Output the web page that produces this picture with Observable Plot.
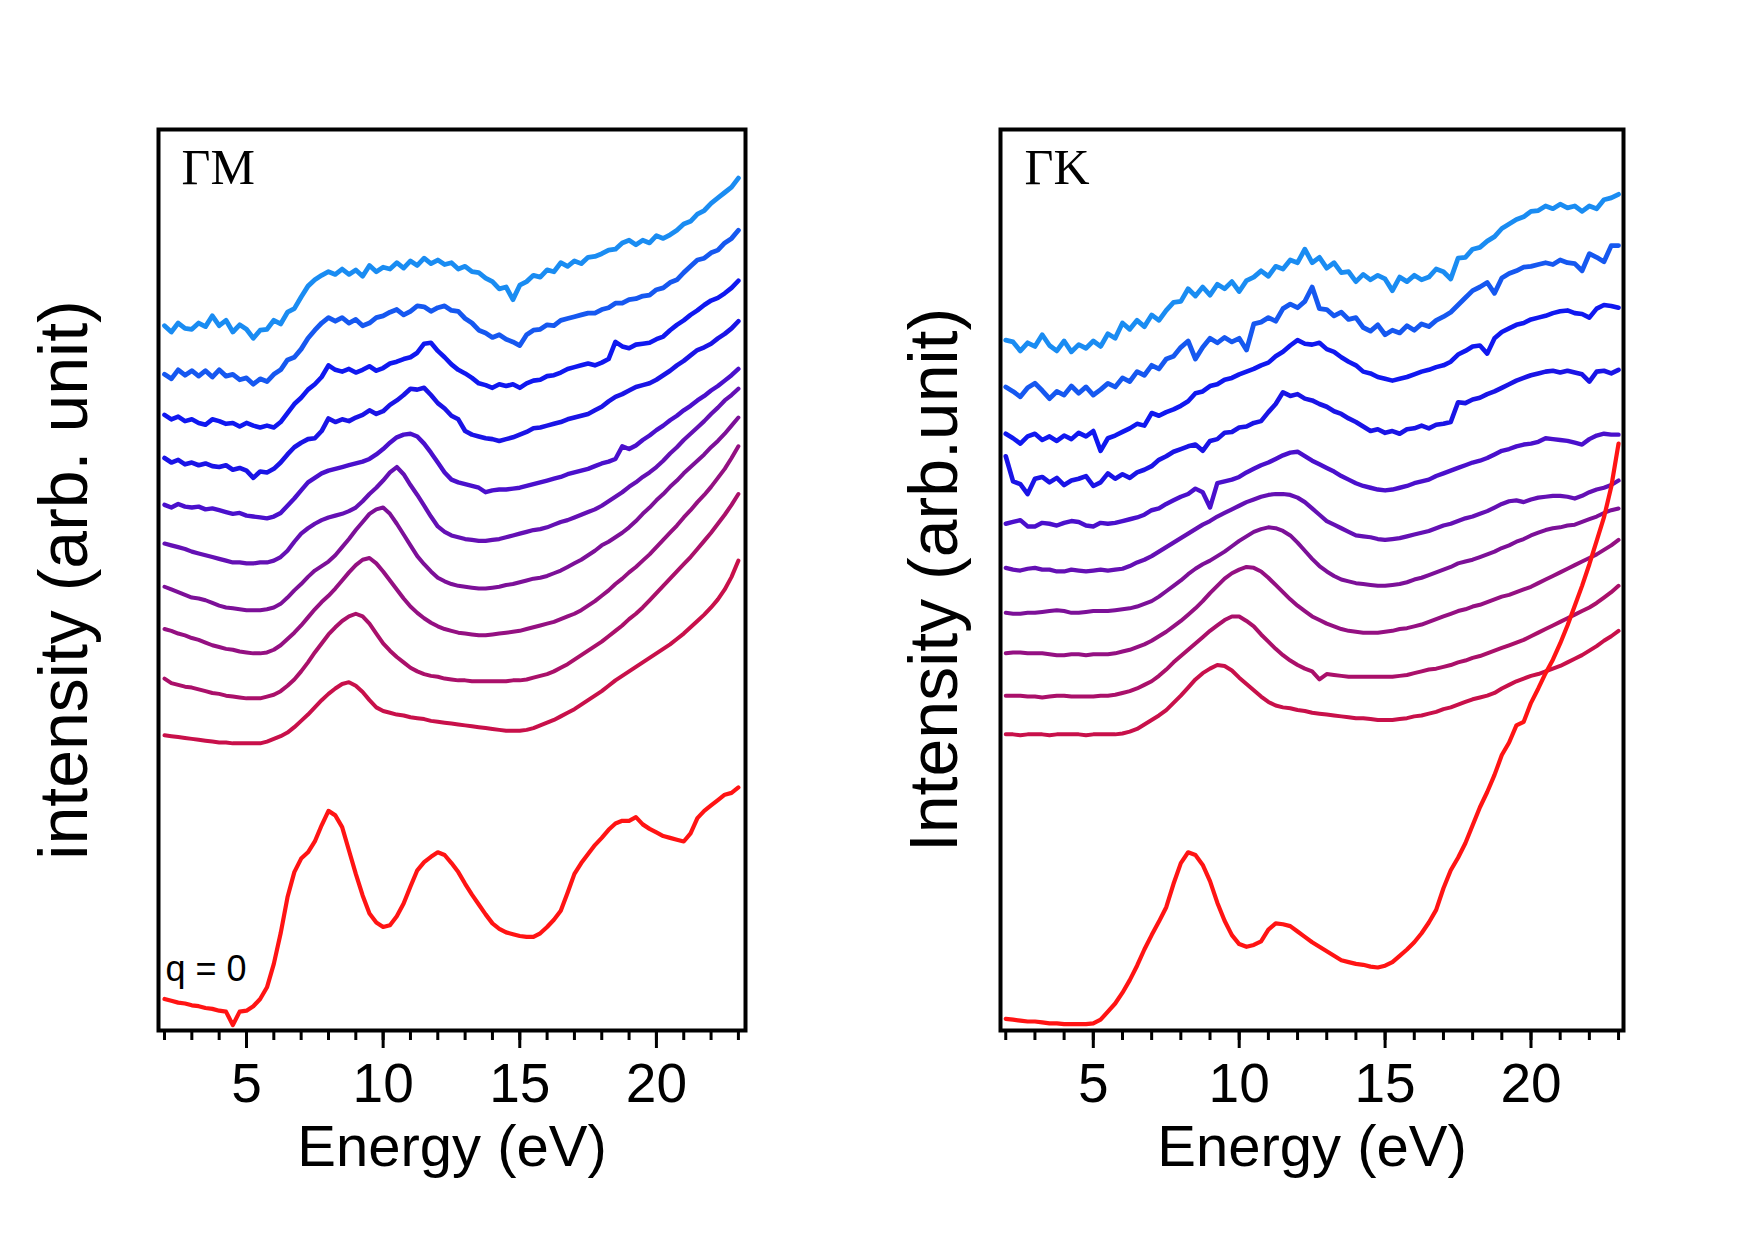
<!DOCTYPE html>
<html>
<head>
<meta charset="utf-8">
<script src="https://cdn.jsdelivr.net/npm/d3@7"></script>
<script src="https://cdn.jsdelivr.net/npm/@observablehq/plot@0.6"></script>
<style>
  html, body { margin: 0; padding: 0; background: #fff; }
  #figure { position: relative; width: 1755px; height: 1240px; overflow: hidden; background: #fff; }
  #figure > div { position: absolute; top: 0; }
</style>
</head>
<body>
<div id="figure">
  <div id="panel-gm" style="left:0px"></div>
  <div id="panel-gk" style="left:830px"></div>
</div>
<script>
// Energy loss grid (eV) shared by every spectrum
const energy = [
  2.00, 2.25, 2.50, 2.75, 3.00, 3.25, 3.50, 3.75,
  4.00, 4.25, 4.50, 4.75, 5.00, 5.25, 5.50, 5.75,
  6.00, 6.25, 6.50, 6.75, 7.00, 7.25, 7.50, 7.75,
  8.00, 8.25, 8.50, 8.75, 9.00, 9.25, 9.50, 9.75,
  10.00, 10.25, 10.50, 10.75, 11.00, 11.25, 11.50, 11.75,
  12.00, 12.25, 12.50, 12.75, 13.00, 13.25, 13.50, 13.75,
  14.00, 14.25, 14.50, 14.75, 15.00, 15.25, 15.50, 15.75,
  16.00, 16.25, 16.50, 16.75, 17.00, 17.25, 17.50, 17.75,
  18.00, 18.25, 18.50, 18.75, 19.00, 19.25, 19.50, 19.75,
  20.00, 20.25, 20.50, 20.75, 21.00, 21.25, 21.50, 21.75,
  22.00, 22.25, 22.50, 22.75, 23.00
];

// ---- ΓM direction: stacked spectra, q = 0 at the bottom, increasing q upward ----
const gmQ0 = [
  3.5, 3.3, 3.1, 3.0, 2.8, 2.7, 2.5, 2.4,
  2.2, 2.1, 0.6, 2.1, 2.2, 2.7, 3.5, 4.8,
  7.4, 10.8, 14.8, 17.6, 19.1, 19.8, 21.0, 22.8,
  24.4, 23.9, 22.6, 20.0, 17.4, 15.0, 13.0, 12.0,
  11.5, 11.7, 12.7, 14.1, 16.0, 17.8, 18.7, 19.3,
  19.8, 19.5, 18.6, 17.6, 16.3, 15.1, 14.0, 12.9,
  11.9, 11.3, 10.9, 10.7, 10.5, 10.4, 10.4, 10.8,
  11.5, 12.3, 13.3, 15.3, 17.4, 18.6, 19.6, 20.6,
  21.4, 22.3, 23.0, 23.3, 23.3, 23.7, 22.9, 22.4,
  22.0, 21.6, 21.4, 21.2, 21.0, 21.9, 23.6, 24.4,
  25.0, 25.6, 26.2, 26.4, 27.0
];
const gmQ1 = [
  32.8, 32.7, 32.6, 32.5, 32.4, 32.3, 32.2, 32.1,
  32.0, 32.0, 31.9, 31.9, 31.9, 31.9, 31.9, 32.1,
  32.4, 32.7, 33.1, 33.7, 34.4, 35.1, 35.9, 36.7,
  37.4, 38.0, 38.5, 38.7, 38.3, 37.6, 36.7, 35.9,
  35.5, 35.3, 35.1, 35.0, 34.8, 34.7, 34.6, 34.4,
  34.3, 34.2, 34.1, 34.0, 33.9, 33.8, 33.7, 33.6,
  33.5, 33.4, 33.3, 33.3, 33.3, 33.4, 33.6, 33.9,
  34.2, 34.5, 34.9, 35.3, 35.7, 36.2, 36.7, 37.2,
  37.7, 38.3, 38.9, 39.4, 39.9, 40.4, 40.9, 41.4,
  41.9, 42.4, 42.9, 43.5, 44.1, 44.8, 45.5, 46.2,
  47.0, 47.9, 49.0, 50.4, 52.2
];
const gmQ2 = [
  39.1, 38.6, 38.4, 38.2, 38.1, 37.9, 37.7, 37.5,
  37.4, 37.2, 37.1, 37.0, 36.9, 36.9, 36.9, 37.1,
  37.3, 37.7, 38.3, 39.0, 39.9, 40.9, 42.0, 43.0,
  44.0, 44.8, 45.5, 46.0, 46.3, 46.0, 45.2, 44.1,
  43.0, 42.2, 41.5, 40.9, 40.3, 39.9, 39.6, 39.4,
  39.3, 39.1, 39.0, 38.9, 38.9, 38.8, 38.8, 38.8,
  38.8, 38.8, 38.8, 38.9, 38.9, 39.0, 39.2, 39.4,
  39.6, 39.9, 40.3, 40.7, 41.2, 41.7, 42.2, 42.7,
  43.2, 43.8, 44.4, 45.0, 45.7, 46.3, 47.0, 47.8,
  48.6, 49.4, 50.2, 51.0, 51.8, 52.6, 53.5, 54.4,
  55.3, 56.3, 57.3, 58.4, 59.6
];
const gmQ3 = [
  44.6, 44.4, 44.1, 43.9, 43.6, 43.4, 43.1, 42.8,
  42.6, 42.4, 42.3, 42.1, 42.0, 41.9, 41.9, 42.0,
  42.3, 42.8, 43.5, 44.2, 45.0, 45.9, 46.8, 47.6,
  48.3, 49.1, 50.0, 50.9, 51.7, 52.3, 52.5, 51.9,
  51.0, 50.0, 49.0, 48.0, 47.1, 46.4, 45.8, 45.3,
  44.9, 44.6, 44.4, 44.2, 44.1, 44.0, 43.9, 43.9,
  44.0, 44.1, 44.2, 44.3, 44.4, 44.6, 44.8, 45.0,
  45.2, 45.4, 45.7, 46.0, 46.3, 46.7, 47.2, 47.7,
  48.3, 48.9, 49.6, 50.2, 50.9, 51.5, 52.2, 52.9,
  53.7, 54.5, 55.3, 56.1, 57.0, 57.8, 58.7, 59.5,
  60.4, 61.4, 62.4, 63.6, 64.9
];
const gmQ4 = [
  49.3, 49.0, 48.7, 48.4, 48.1, 48.0, 47.8, 47.5,
  47.2, 47.0, 46.9, 46.8, 46.7, 46.7, 46.7, 46.8,
  47.0, 47.4, 48.1, 48.9, 49.6, 50.4, 51.1, 51.6,
  52.1, 52.8, 53.7, 54.6, 55.6, 56.5, 57.4, 57.9,
  58.1, 57.4, 56.3, 55.1, 53.9, 52.7, 51.8, 51.0,
  50.3, 49.9, 49.6, 49.4, 49.3, 49.2, 49.1, 49.1,
  49.2, 49.3, 49.5, 49.6, 49.8, 50.0, 50.2, 50.3,
  50.5, 50.8, 51.1, 51.5, 51.9, 52.3, 52.8, 53.3,
  53.9, 54.3, 54.8, 55.3, 55.9, 56.6, 57.4, 58.1,
  58.9, 59.6, 60.4, 61.1, 61.9, 62.6, 63.3, 64.0,
  64.8, 65.5, 66.3, 67.2, 68.1
];
const gmQ5 = [
  54.1, 53.9, 53.7, 53.5, 53.2, 53.0, 52.8, 52.6,
  52.4, 52.2, 52.0, 52.0, 51.9, 51.9, 52.0, 52.0,
  52.2, 52.6, 53.3, 54.3, 55.2, 55.8, 56.3, 56.7,
  57.0, 57.2, 57.4, 57.7, 58.1, 58.8, 59.6, 60.3,
  61.1, 62.0, 62.6, 61.8, 60.6, 59.5, 58.3, 57.1,
  56.0, 55.4, 55.0, 54.8, 54.6, 54.5, 54.4, 54.4,
  54.5, 54.6, 54.8, 55.0, 55.2, 55.4, 55.6, 55.7,
  55.9, 56.2, 56.5, 56.7, 57.0, 57.3, 57.6, 57.9,
  58.3, 58.8, 59.3, 59.8, 60.4, 60.9, 61.5, 62.0,
  62.6, 63.3, 64.1, 64.8, 65.6, 66.3, 67.0, 67.7,
  68.5, 69.2, 70.0, 70.6, 71.3
];
const gmQ6 = [
  58.4, 58.1, 58.5, 58.2, 58.1, 58.2, 57.9, 58.0,
  57.8, 57.6, 57.4, 57.5, 57.2, 57.1, 57.0, 56.9,
  57.1, 57.5, 58.3, 59.1, 60.0, 60.9, 61.4, 61.9,
  62.2, 62.4, 62.6, 62.8, 63.0, 63.2, 63.5, 64.0,
  64.6, 65.3, 65.9, 66.2, 66.3, 66.0, 65.2, 64.2,
  63.1, 62.0, 61.2, 60.9, 60.7, 60.5, 60.3, 59.8,
  60.0, 60.1, 60.1, 60.2, 60.3, 60.5, 60.7, 60.9,
  61.1, 61.3, 61.5, 61.8, 62.0, 62.2, 62.4, 62.7,
  63.0, 63.2, 63.5, 64.9, 64.6, 65.0, 65.6, 66.1,
  66.7, 67.2, 67.8, 68.3, 68.9, 69.4, 70.0, 70.5,
  71.1, 71.6, 72.2, 72.8, 73.5
];
const gmQ7 = [
  63.6, 63.1, 63.4, 62.9, 63.1, 62.8, 63.0, 62.7,
  62.6, 62.8, 62.3, 62.5, 62.2, 61.4, 62.1, 62.0,
  62.4, 63.1, 64.0, 64.8, 65.3, 65.7, 65.8, 66.6,
  68.0, 67.6, 67.9, 67.7, 68.1, 68.4, 68.9, 68.5,
  68.8, 69.5, 70.0, 70.6, 71.3, 71.2, 71.4, 70.6,
  69.7, 69.1, 68.3, 67.9, 66.6, 66.2, 66.0, 65.8,
  65.7, 65.5, 65.7, 65.9, 66.2, 66.5, 66.9, 67.0,
  67.2, 67.4, 67.6, 67.9, 68.1, 68.3, 68.5, 68.9,
  69.3, 69.9, 70.4, 70.7, 71.1, 71.5, 71.7, 71.9,
  72.3, 72.8, 73.3, 73.9, 74.4, 75.0, 75.6, 75.9,
  76.3, 76.9, 77.4, 78.0, 78.8
];
const gmQ8 = [
  68.4, 67.9, 68.2, 67.7, 67.9, 67.5, 67.3, 67.9,
  67.7, 67.4, 67.5, 67.1, 67.5, 67.2, 67.0, 67.2,
  67.0, 67.6, 68.6, 69.6, 70.3, 71.2, 71.8, 72.6,
  73.9, 73.4, 73.2, 73.5, 73.1, 73.4, 73.8, 73.3,
  73.6, 74.1, 74.3, 74.6, 74.8, 75.3, 76.3, 76.4,
  75.5, 74.8, 74.0, 73.4, 73.0, 72.5, 71.9, 71.7,
  71.4, 71.8, 71.6, 71.8, 71.4, 71.9, 72.2, 72.3,
  72.7, 72.8, 73.1, 73.5, 73.7, 73.9, 74.1, 73.9,
  74.2, 74.6, 76.5, 76.0, 75.8, 76.2, 76.3, 76.4,
  76.8, 77.1, 77.8, 78.4, 78.9, 79.5, 80.0, 80.6,
  81.1, 81.4, 81.9, 82.5, 83.3
];
const gmQ9 = [
  72.9, 72.4, 73.4, 72.8, 73.3, 72.7, 73.3, 72.6,
  73.4, 72.7, 72.9, 72.3, 72.5, 71.8, 72.4, 72.1,
  72.9, 73.4, 74.5, 74.8, 75.7, 76.9, 77.8, 78.6,
  79.2, 78.8, 79.2, 78.6, 79.0, 78.3, 78.6, 79.2,
  79.4, 79.8, 80.1, 79.5, 79.9, 80.5, 80.4, 79.9,
  80.3, 80.5, 80.0, 79.9, 79.1, 78.6, 77.8, 77.5,
  77.0, 77.3, 76.8, 76.5, 76.1, 77.3, 77.8, 77.9,
  78.4, 78.3, 78.9, 79.1, 79.3, 79.5, 79.7, 79.7,
  80.1, 80.3, 80.8, 80.8, 81.2, 81.3, 81.6, 81.7,
  82.3, 82.5, 83.1, 83.4, 84.2, 84.9, 85.6, 85.8,
  86.4, 86.7, 87.5, 88.0, 88.9
];
const gmQ10 = [
  78.3, 77.6, 78.6, 78.0, 77.9, 78.6, 78.2, 79.4,
  78.3, 78.9, 77.6, 78.4, 77.9, 76.9, 77.8, 77.9,
  78.9, 78.5, 79.8, 80.2, 81.5, 82.7, 83.4, 83.9,
  84.3, 84.0, 84.6, 84.0, 84.5, 83.8, 85.0, 84.3,
  84.8, 84.6, 85.3, 84.7, 85.5, 85.0, 85.8, 85.2,
  85.6, 85.1, 85.3, 84.6, 84.9, 84.3, 84.2, 83.6,
  83.2, 82.4, 82.6, 81.2, 82.8, 83.2, 83.9, 83.7,
  84.5, 84.3, 85.3, 84.9, 85.5, 85.2, 85.9, 86.0,
  86.3, 86.7, 86.8, 87.5, 87.8, 87.3, 87.8, 87.5,
  88.3, 88.0, 88.4, 88.9, 89.6, 89.9, 90.7, 91.1,
  91.9, 92.5, 93.1, 93.7, 94.7
];

// ---- ΓK direction ----
const gkQ0 = [
  1.3, 1.2, 1.1, 1.0, 1.0, 0.9, 0.8, 0.8,
  0.7, 0.7, 0.7, 0.7, 0.8, 1.2, 2.1, 3.0,
  4.2, 5.6, 7.2, 9.0, 10.6, 12.1, 13.7, 16.3,
  18.6, 19.8, 19.5, 18.4, 16.6, 14.2, 12.2, 10.6,
  9.6, 9.3, 9.5, 9.9, 11.2, 11.9, 11.8, 11.6,
  11.0, 10.4, 9.8, 9.3, 8.8, 8.3, 7.8, 7.6,
  7.4, 7.3, 7.1, 7.0, 7.2, 7.6, 8.3, 9.0,
  9.8, 10.8, 12.0, 13.4, 15.8, 17.8, 19.2, 20.8,
  22.8, 24.8, 26.5, 28.4, 30.6, 32.0, 33.9, 34.3,
  36.4, 38.0, 39.7, 41.2, 43.0, 45.0, 47.2, 49.4,
  51.8, 54.4, 57.0, 60.4, 65.2
];
const gkQ1 = [
  32.9, 32.9, 32.8, 32.9, 32.9, 32.9, 32.8, 32.9,
  32.9, 32.9, 32.9, 32.8, 32.9, 32.9, 32.9, 32.9,
  33.0, 33.2, 33.5, 34.0, 34.5, 35.0, 35.6, 36.4,
  37.2, 38.1, 39.0, 39.7, 40.2, 40.6, 40.5, 40.0,
  39.2, 38.5, 37.8, 37.1, 36.5, 36.1, 35.9, 35.8,
  35.6, 35.5, 35.3, 35.2, 35.1, 35.0, 34.9, 34.8,
  34.7, 34.7, 34.6, 34.5, 34.5, 34.5, 34.6, 34.7,
  34.9, 35.0, 35.2, 35.4, 35.7, 35.9, 36.2, 36.5,
  36.8, 37.0, 37.2, 37.5, 38.0, 38.4, 38.8, 39.1,
  39.4, 39.6, 39.9, 40.2, 40.5, 40.9, 41.3, 41.7,
  42.2, 42.7, 43.3, 43.8, 44.4
];
const gkQ2 = [
  37.2, 37.2, 37.2, 37.1, 37.1, 37.0, 37.1, 37.2,
  37.2, 37.1, 37.1, 37.1, 37.1, 37.2, 37.2, 37.3,
  37.5, 37.7, 38.0, 38.4, 38.8, 39.4, 40.1, 40.9,
  41.6, 42.3, 43.0, 43.7, 44.4, 45.0, 45.6, 46.0,
  46.0, 45.5, 44.9, 44.0, 43.2, 42.4, 41.7, 41.1,
  40.6, 40.2, 39.9, 39.0, 39.6, 39.5, 39.4, 39.3,
  39.3, 39.3, 39.3, 39.3, 39.3, 39.3, 39.4, 39.5,
  39.7, 39.9, 40.1, 40.2, 40.4, 40.6, 40.9, 41.1,
  41.4, 41.6, 41.9, 42.2, 42.5, 42.8, 43.1, 43.4,
  43.8, 44.2, 44.6, 45.0, 45.4, 45.8, 46.2, 46.6,
  47.0, 47.5, 48.1, 48.7, 49.4
];
const gkQ3 = [
  41.9, 42.0, 42.0, 41.9, 41.9, 41.9, 41.8, 41.7,
  41.7, 41.8, 41.8, 41.7, 41.8, 41.8, 41.8, 41.9,
  42.1, 42.3, 42.6, 42.9, 43.3, 43.8, 44.3, 44.9,
  45.5, 46.2, 46.9, 47.7, 48.6, 49.4, 50.2, 50.8,
  51.2, 51.5, 51.4, 51.0, 50.3, 49.5, 48.7, 47.9,
  47.2, 46.6, 46.0, 45.6, 45.2, 44.9, 44.6, 44.4,
  44.3, 44.2, 44.2, 44.2, 44.3, 44.4, 44.6, 44.7,
  44.9, 45.1, 45.4, 45.7, 46.0, 46.3, 46.6, 46.8,
  47.1, 47.3, 47.6, 47.9, 48.2, 48.4, 48.7, 49.0,
  49.3, 49.7, 50.1, 50.5, 50.9, 51.3, 51.7, 52.1,
  52.5, 52.9, 53.4, 53.9, 54.5
];
const gkQ4 = [
  46.4, 46.3, 46.3, 46.4, 46.4, 46.5, 46.6, 46.7,
  46.6, 46.4, 46.4, 46.5, 46.6, 46.6, 46.6, 46.7,
  46.8, 46.9, 47.1, 47.4, 47.7, 48.2, 48.8, 49.4,
  50.0, 50.7, 51.3, 51.8, 52.2, 52.7, 53.2, 53.8,
  54.4, 54.9, 55.4, 55.7, 55.9, 55.8, 55.5, 55.0,
  54.2, 53.3, 52.4, 51.6, 51.0, 50.5, 50.1, 49.9,
  49.7, 49.6, 49.5, 49.4, 49.4, 49.5, 49.6, 49.8,
  50.1, 50.3, 50.6, 50.9, 51.2, 51.5, 51.9, 52.1,
  52.3, 52.6, 52.9, 53.2, 53.6, 53.9, 54.3, 54.6,
  55.0, 55.3, 55.6, 55.8, 55.9, 56.1, 56.2, 56.5,
  56.8, 57.1, 57.5, 57.8, 58.0
];
const gkQ5 = [
  51.4, 51.2, 51.1, 51.3, 51.4, 51.2, 51.2, 51.0,
  51.0, 51.2, 51.1, 51.0, 51.1, 51.2, 51.1, 51.2,
  51.3, 51.6, 52.0, 52.3, 52.7, 53.2, 53.7, 54.2,
  54.7, 55.2, 55.7, 56.2, 56.6, 57.1, 57.5, 57.9,
  58.3, 58.7, 59.0, 59.3, 59.5, 59.6, 59.6, 59.5,
  59.2, 58.7, 58.0, 57.3, 56.6, 56.2, 55.8, 55.4,
  55.0, 54.9, 54.8, 54.6, 54.5, 54.6, 54.7, 54.9,
  55.1, 55.3, 55.5, 55.8, 56.1, 56.3, 56.6, 56.9,
  57.1, 57.4, 57.7, 58.1, 58.5, 58.8, 58.9, 58.7,
  59.0, 59.2, 59.3, 59.4, 59.4, 59.3, 59.1, 59.4,
  59.8, 60.1, 60.3, 60.6, 61.1
];
const gkQ6 = [
  56.3, 56.5, 56.7, 56.0, 56.0, 56.4, 56.3, 56.1,
  56.4, 56.6, 56.5, 56.1, 56.0, 56.4, 56.3, 56.4,
  56.6, 56.8, 57.0, 57.3, 57.8, 58.0, 58.5, 58.9,
  59.3, 59.6, 60.2, 59.8, 58.1, 60.8, 61.0, 61.2,
  61.5, 62.0, 62.4, 62.8, 63.1, 63.5, 63.9, 64.2,
  64.3, 63.8, 63.3, 62.9, 62.5, 62.1, 61.6, 61.2,
  60.8, 60.5, 60.3, 60.1, 60.0, 60.1, 60.3, 60.5,
  60.8, 61.0, 61.2, 61.6, 61.9, 62.2, 62.5, 62.8,
  63.1, 63.3, 63.6, 64.0, 64.4, 64.6, 64.9, 65.1,
  65.2, 65.4, 65.8, 65.7, 65.6, 65.5, 65.3, 65.1,
  65.7, 66.1, 66.3, 66.2, 66.2
];
const gkQ7 = [
  63.8, 61.0, 60.7, 59.6, 61.3, 61.5, 60.9, 61.4,
  60.6, 61.1, 61.3, 61.6, 60.5, 60.9, 61.9, 61.3,
  61.8, 61.4, 62.0, 62.3, 62.7, 63.4, 63.8, 64.3,
  64.6, 64.9, 65.1, 64.4, 65.5, 65.7, 66.4, 66.5,
  67.0, 67.1, 67.5, 67.7, 68.7, 69.6, 70.9, 70.5,
  70.7, 70.2, 70.0, 69.6, 69.3, 68.8, 68.5, 68.0,
  67.6, 67.1, 66.6, 66.8, 66.4, 66.6, 66.3, 66.8,
  66.9, 67.2, 66.9, 67.3, 67.4, 67.6, 69.8, 69.7,
  70.1, 70.3, 70.7, 71.0, 71.4, 71.8, 72.2, 72.5,
  72.8, 73.0, 73.2, 73.3, 73.1, 73.3, 73.1, 72.9,
  72.1, 73.2, 73.3, 73.0, 73.4
];
const gkQ8 = [
  66.3, 65.8, 65.2, 66.0, 66.3, 65.6, 66.0, 65.5,
  66.1, 65.7, 66.4, 66.0, 66.6, 64.4, 65.8, 66.1,
  66.5, 66.9, 67.4, 67.2, 68.6, 68.3, 68.7, 69.0,
  69.4, 69.9, 70.8, 71.0, 71.6, 71.8, 72.3, 72.5,
  72.9, 73.2, 73.5, 73.9, 74.2, 74.9, 75.4, 76.1,
  76.7, 76.3, 76.2, 76.4, 75.7, 75.4, 74.8, 74.3,
  73.9, 73.2, 73.0, 72.6, 72.4, 72.2, 72.4, 72.6,
  72.9, 73.2, 73.4, 73.7, 73.9, 74.3, 75.1, 75.5,
  76.0, 76.1, 75.2, 76.9, 77.6, 78.0, 78.4, 78.6,
  79.0, 79.2, 79.4, 79.7, 79.9, 80.0, 79.7, 79.6,
  79.2, 80.2, 80.6, 80.5, 80.3
];
const gkQ9 = [
  71.5, 71.0, 70.4, 71.4, 71.9, 71.1, 70.2, 71.0,
  70.6, 71.6, 70.8, 71.5, 70.6, 71.2, 71.9, 71.5,
  72.5, 72.1, 73.2, 72.8, 73.9, 73.5, 74.6, 74.9,
  75.9, 76.6, 74.6, 75.9, 76.9, 76.4, 77.0, 76.5,
  76.9, 75.6, 78.5, 78.7, 79.2, 78.8, 80.2, 80.7,
  80.3, 81.0, 82.6, 80.2, 80.1, 79.4, 79.8, 79.0,
  79.2, 78.1, 77.7, 78.4, 77.3, 77.8, 77.5, 78.3,
  77.8, 78.5, 78.2, 78.9, 79.3, 79.8, 80.6, 81.4,
  82.2, 82.6, 83.1, 81.9, 83.6, 84.1, 84.4, 84.8,
  84.9, 85.1, 85.3, 85.1, 85.6, 85.3, 85.2, 84.4,
  86.3, 85.9, 85.4, 87.2, 87.2
];
const gkQ10 = [
  76.7, 76.5, 75.5, 76.4, 76.0, 77.3, 76.1, 75.5,
  76.6, 75.4, 76.2, 75.8, 76.6, 76.0, 77.4, 76.9,
  78.6, 77.9, 78.9, 78.2, 79.5, 78.9, 80.0, 80.9,
  81.0, 82.4, 81.6, 82.6, 81.7, 82.9, 82.4, 83.2,
  82.1, 83.3, 83.7, 84.4, 83.8, 84.9, 84.6, 85.6,
  85.3, 86.8, 85.3, 85.9, 84.7, 85.3, 84.2, 84.3,
  83.2, 84.0, 83.4, 83.9, 83.5, 82.2, 83.7, 83.2,
  83.9, 83.4, 83.7, 84.6, 84.3, 83.5, 85.8, 85.9,
  86.8, 87.0, 87.7, 88.2, 89.1, 89.6, 90.1, 90.4,
  91.0, 91.1, 91.6, 91.3, 91.8, 91.4, 91.6, 91.0,
  91.6, 91.3, 92.3, 92.5, 92.9
];

// Colours from the lowest finite-q spectrum (q1) to the highest (q10)
const curveColors = [
  "#c8104a", "#aa106a", "#941082", "#7c1098", "#6410b4",
  "#4a10cc", "#1a14e6", "#1018f0", "#1658f0", "#1a8cf2"
];
// Line widths: the noisier high-q spectra read heavier
const curveWidths = [4.0, 4.0, 4.0, 4.0, 4.2, 4.4, 4.6, 4.6, 4.8, 4.8];
const q0Color = "#ff1414";

const minorTicks = [2, 3, 4, 5, 6, 7, 8, 9, 10, 11, 12, 13, 14, 15, 16, 17, 18, 19, 20, 21, 22, 23];
const majorTicks = [5, 10, 15, 20];

const gmSpectra = [gmQ1, gmQ2, gmQ3, gmQ4, gmQ5, gmQ6, gmQ7, gmQ8, gmQ9, gmQ10];
const gkSpectra = [gkQ1, gkQ2, gkQ3, gkQ4, gkQ5, gkQ6, gkQ7, gkQ8, gkQ9, gkQ10];

const sansFont = "'Liberation Sans', Arial, Helvetica, sans-serif";
const serifFont = "'Liberation Serif', 'Times New Roman', Times, serif";

function panel({width, marginLeft, marginRight, xDomain, spectra, q0, direction,
                yLabel, yLabelDx, yLabelSize, titleDx, q0Note}) {
  const marks = [];
  // upper spectra first so the lower ones sit on top of them
  for (let k = spectra.length - 1; k >= 0; --k) {
    marks.push(Plot.lineY(spectra[k], {
      x: energy, stroke: curveColors[k], strokeWidth: curveWidths[k],
      strokeLinejoin: "round", strokeLinecap: "round"
    }));
  }
  marks.push(Plot.lineY(q0, {
    x: energy, stroke: q0Color, strokeWidth: 4.2,
    strokeLinejoin: "round", strokeLinecap: "round"
  }));
  marks.push(Plot.frame({stroke: "black", strokeWidth: 4}));
  marks.push(Plot.axisX(minorTicks, {
    tickSize: 10, strokeWidth: 3, tickFormat: () => "", label: null
  }));
  marks.push(Plot.axisX(majorTicks, {
    tickSize: 18, strokeWidth: 3, tickPadding: 14, fontSize: 55, label: null
  }));
  marks.push(Plot.text([direction], {
    text: (d) => d, frameAnchor: "top-left", dx: titleDx, dy: 54,
    textAnchor: "start", lineAnchor: "bottom",
    fontFamily: serifFont, fontSize: 50, fill: "black"
  }));
  marks.push(Plot.text(["Energy (eV)"], {
    text: (d) => d, frameAnchor: "bottom", dy: 135,
    lineAnchor: "bottom", fontSize: 58, fill: "black"
  }));
  marks.push(Plot.text([yLabel], {
    text: (d) => d, frameAnchor: "left", dx: yLabelDx, rotate: -90,
    textAnchor: "middle", lineAnchor: "bottom", fontSize: yLabelSize, fill: "black"
  }));
  if (q0Note) {
    marks.push(Plot.text([q0Note], {
      text: (d) => d, frameAnchor: "bottom-left", dx: 7, dy: -50,
      textAnchor: "start", lineAnchor: "bottom", fontSize: 36, fill: "black"
    }));
  }
  return Plot.plot({
    width, height: 1240,
    marginLeft, marginRight, marginTop: 129, marginBottom: 210,
    x: {domain: xDomain, label: null},
    y: {domain: [0, 100.1], axis: null},
    style: {fontFamily: sansFont, background: "white", color: "black", overflow: "visible"},
    marks
  });
}

document.getElementById("panel-gm").append(panel({
  width: 830, marginLeft: 158, marginRight: 85, xDomain: [1.78, 23.26],
  spectra: gmSpectra, q0: gmQ0, direction: "ΓM",
  yLabel: "intensity (arb. unit)", yLabelDx: -72, yLabelSize: 68,
  titleDx: 23, q0Note: "q = 0"
}));
document.getElementById("panel-gk").append(panel({
  width: 925, marginLeft: 170, marginRight: 132, xDomain: [1.82, 23.17],
  spectra: gkSpectra, q0: gkQ0, direction: "ΓK",
  yLabel: "Intensity (arb.unit)", yLabelDx: -44, yLabelSize: 68,
  titleDx: 24, q0Note: null
}));
</script>
</body>
</html>
